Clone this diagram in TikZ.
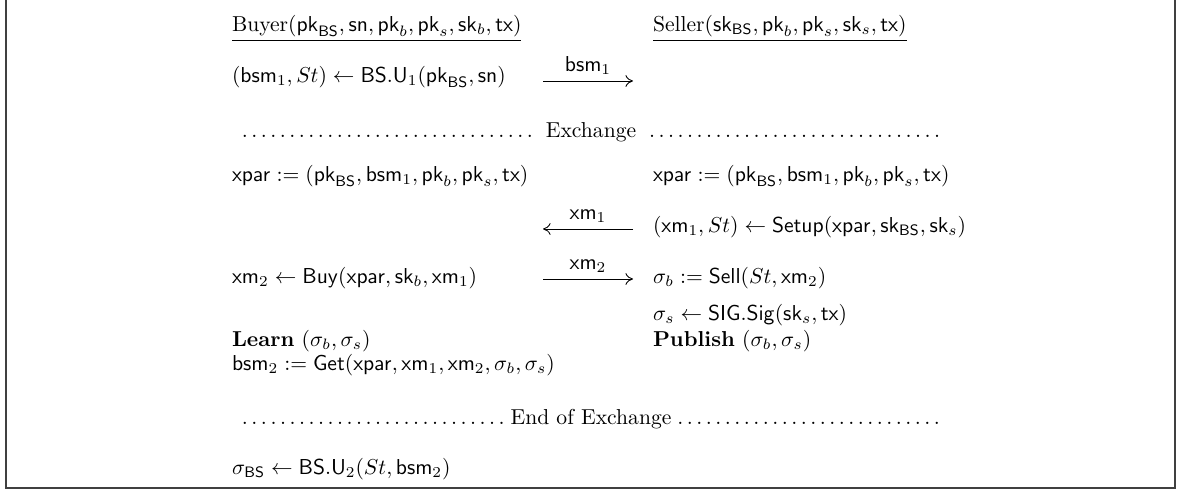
\documentclass[tikz,border=0pt]{standalone}
\usepackage{amsmath}
\usetikzlibrary{arrows.meta}
\newcommand{\zs}[1]{\mathsf{#1}}
\tikzset{
  txt/.style={inner sep=0pt, outer sep=0pt, anchor=mid west, font=\fontsize{10}{12}\selectfont},
  lbl/.style={inner sep=0pt, outer sep=0pt, anchor=mid, font=\fontsize{10}{12}\selectfont},
  msg/.style={-{Computer Modern Rightarrow[length=3.5pt,width=5.5pt]}, line width=0.4pt},
  frameline/.style={line width=0.7pt, draw=black!75}
}
\begin{document}
\begin{tikzpicture}[x=0.463pt, y=-0.463pt]
\useasboundingbox (0,0) rectangle (1177,493);
\draw[frameline] (6,-5) -- (6,488) -- (1175,488) -- (1175,-5);
% headers
\node[txt] (buyer) at (232,27) {\underline{Buyer$(\zs{pk}_{\zs{BS}}, \zs{sn}, \zs{pk}_b, \zs{pk}_s, \zs{sk}_b, \zs{tx})$}};
\node[txt] (seller) at (653,27) {\underline{Seller$(\zs{sk}_{\zs{BS}}, \zs{pk}_b, \zs{pk}_s, \zs{sk}_s, \zs{tx})$}};
% row 1
\node[txt] (u1) at (232,78) {$(\zs{bsm}_1, St) \gets \zs{BS.U}_1(\zs{pk}_{\zs{BS}}, \zs{sn})$};
\coordinate (m1s) at (543,81);
\coordinate (m1e) at (633,81);
\draw[msg] (m1s) -- (m1e) node[lbl, pos=0.5, yshift=6.5pt] (l1) {$\zs{bsm}_1$};
% exchange
\node[txt, text width=710*0.463pt] (ex) at (236,133) {\dotfill\ Exchange\ \dotfill};
% xpar rows
\node[txt] (xpb) at (232,177) {$\zs{xpar} := (\zs{pk}_{\zs{BS}}, \zs{bsm}_1, \zs{pk}_b, \zs{pk}_s, \zs{tx})$};
\node[txt] (xps) at (653,177) {$\zs{xpar} := (\zs{pk}_{\zs{BS}}, \zs{bsm}_1, \zs{pk}_b, \zs{pk}_s, \zs{tx})$};
% xm1
\node[txt] (setup) at (653,228) {$(\zs{xm}_1, St) \gets \zs{Setup}(\zs{xpar}, \zs{sk}_{\zs{BS}}, \zs{sk}_s)$};
\coordinate (m2s) at (633,229);
\coordinate (m2e) at (543,229);
\draw[msg] (m2s) -- (m2e) node[lbl, pos=0.5, yshift=6.5pt] (l2) {$\zs{xm}_1$};
% xm2
\node[txt] (buy) at (232,279) {$\zs{xm}_2 \gets \zs{Buy}(\zs{xpar}, \zs{sk}_b, \zs{xm}_1)$};
\node[txt] (sell) at (653,279) {$\sigma_b := \zs{Sell}(St, \zs{xm}_2)$};
\coordinate (m3s) at (543,279);
\coordinate (m3e) at (633,279);
\draw[msg] (m3s) -- (m3e) node[lbl, pos=0.5, yshift=6.5pt] (l3) {$\zs{xm}_2$};
% sig
\node[txt] (sig) at (653,316) {$\sigma_s \gets \zs{SIG.Sig}(\zs{sk}_s, \zs{tx})$};
\node[txt] (learn) at (232,342) {\textbf{Learn} $(\sigma_b, \sigma_s)$};
\node[txt] (publish) at (653,342) {\textbf{Publish} $(\sigma_b, \sigma_s)$};
\node[txt] (get) at (232,366) {$\zs{bsm}_2 := \zs{Get}(\zs{xpar}, \zs{xm}_1, \zs{xm}_2, \sigma_b, \sigma_s)$};
% end exchange
\node[txt, text width=710*0.463pt] (eex) at (236,420) {\dotfill End of Exchange\dotfill};
\node[txt] (u2) at (232,470) {$\sigma_{\zs{BS}} \gets \zs{BS.U}_2(St, \zs{bsm}_2)$};
\end{tikzpicture}
\end{document}
